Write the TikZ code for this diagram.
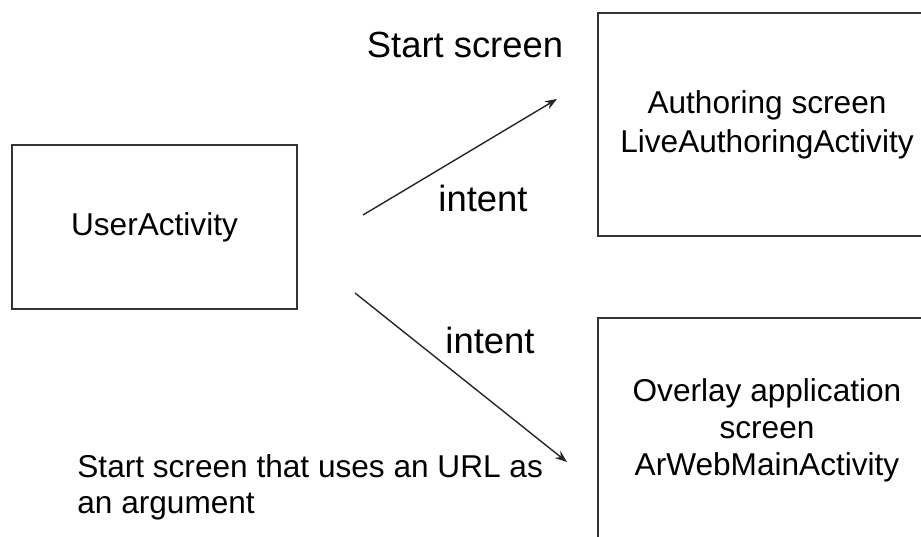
\documentclass[tikz,border=0pt]{standalone}
\usepackage{fontspec}
\setmainfont{Liberation Sans}
\usetikzlibrary{arrows.meta, positioning}

\begin{document}
\begin{tikzpicture}[
    x=0.5pt, y=-0.5pt,
    box/.style={
      draw=black!80, line width=0.9pt,
      align=center, inner sep=0pt,
      font=\fontsize{15.8}{18.5}\selectfont
    },
    lbl/.style={font=\fontsize{18.2}{21}\selectfont, inner sep=0pt},
    note/.style={font=\fontsize{15.8}{18}\selectfont, align=left, inner sep=0pt},
    arrow/.style={-{Stealth[length=6pt, width=4.5pt]}, line width=0.7pt, draw=black!85}
]
\clip (0,0) rectangle (921,536);

% --- Boxes ---
\node[box, minimum width=142.5pt, minimum height=82pt] (user) at (154.5,227) {\raisebox{-1.5pt}{UserActivity}};
\node[box, minimum width=169pt, minimum height=111.5pt,
      font=\fontsize{15.8}{19.5}\selectfont] (authoring) at (767,124.5) {Authoring screen\\LiveAuthoringActivity};
\node[box, minimum width=169pt, minimum height=112pt] (overlay) at (767,430) {Overlay application\\screen\\ArWebMainActivity};

% --- Labels ---
\node[lbl] (start) at (465,45) {Start screen};
\node[lbl] (intent up) at (483,198) {intent};
\node[lbl] (intent down) at (490,340) {intent};
\node[note, anchor=west] (url) at (77,487) {Start screen that uses an URL as\\an argument};

% --- Arrows ---
\coordinate (up from) at (363,215);
\coordinate (up to) at (557,99);
\coordinate (down from) at (355,293);
\coordinate (down to) at (567,462);
\draw[arrow] (up from) -- (up to);
\draw[arrow] (down from) -- (down to);

\end{tikzpicture}
\end{document}
